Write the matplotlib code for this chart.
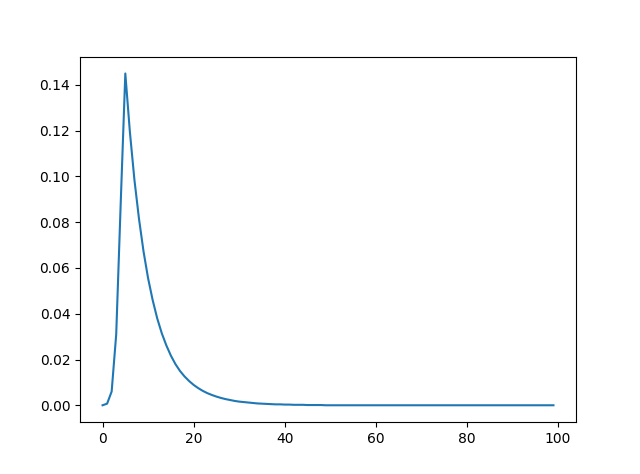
import matplotlib
matplotlib.use("Agg")
import matplotlib.pyplot as plt

# values, x = 0..99
steps = list(range(100))
density = [
    0.0000, 0.0007, 0.0060, 0.0310, 0.0890, 0.1450, 0.1195, 0.0985, 0.0815, 0.0672,
    0.0555, 0.0460, 0.0380, 0.0315, 0.0262, 0.0217, 0.0180, 0.0150, 0.0126, 0.0106,
    0.0089, 0.0075, 0.0063, 0.0053, 0.0045, 0.0038, 0.0032, 0.0027, 0.0023, 0.0019,
    0.0016, 0.0014, 0.0012, 0.0010, 0.0008, 0.0007, 0.0006, 0.0005, 0.0004, 0.0004,
    0.0003, 0.0003, 0.0002, 0.0002, 0.0002, 0.0001, 0.0001, 0.0001, 0.0001, 0.0000,
] + [0.0] * 50

fig, ax = plt.subplots(figsize=(6.4, 4.74), dpi=100)
ax.plot(steps, density)
fig.savefig("out.png", dpi=100)
